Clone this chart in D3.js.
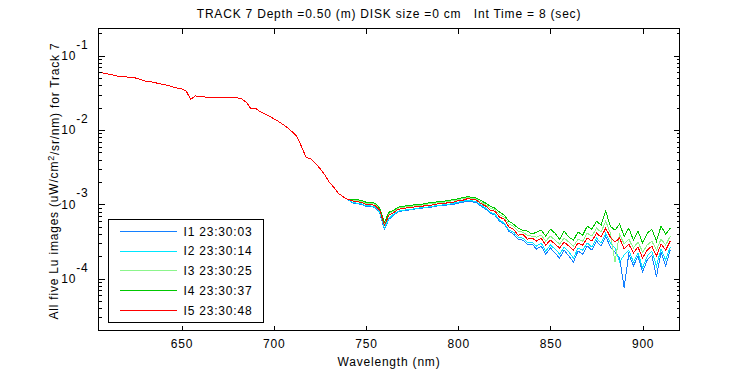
<!DOCTYPE html>
<html>
<head>
<meta charset="utf-8">
<script src="https://cdn.jsdelivr.net/npm/d3@7"></script>
<style>
  body { margin: 0; background: #fff; }
  text { font-family: "Liberation Sans", Arial, sans-serif; font-size: 12px; letter-spacing: 0.8px; fill: #000; white-space: pre; }
</style>
</head>
<body>
<svg id="chart" width="750" height="375"></svg>
<script>
// wavelength grid (nm)
var wavelengths = d3.range(605, 915.1, 2.5);

// 605 - 740 nm, all five images overlap here
var headAll = [0.0606,0.0587,0.0569,0.0552,0.0535,0.0527,0.0519,0.0511,0.0503,0.0480,
  0.0458,0.0452,0.0438,0.0424,0.0411,0.0399,0.0383,0.0369,0.0358,0.0336,
  0.0259,0.0288,0.0284,0.0279,0.0271,0.0275,0.0273,0.0271,0.0271,0.0275,
  0.0273,0.0263,0.0239,0.0196,0.0198,0.0178,0.0165,0.0155,0.0142,0.0131,
  0.0119,0.0107,0.00946,0.00823,0.00604,0.00430,0.00410,0.00357,0.00306,0.00254,
  0.00201,0.00170,0.00141,0.00127,0.00117];

// 742.5 - 915 nm, in units of 1e-4
var tailUnit = 1e-4;
var tailI1 = [10.5,10.2,10.0,9.43,9.43,9.0,7.59,4.63,6.31,7.14,
  7.95,8.2,8.33,8.46,8.72,8.86,9.0,9.14,9.43,9.57,
  9.72,9.86,10.0,10.35,10.67,11.01,10.84,10.5,9.43,8.59,
  7.59,7.14,5.93,5.41,4.35,3.97,3.40,3.30,2.92,2.92,
  2.50,2.74,2.14,2.58,2.21,1.89,2.42,2.01,1.67,2.35,
  2.14,2.74,2.42,3.20,2.74,3.73,2.66,2.28,1.89,0.76,
  2.14,1.48,2.01,1.23,1.78,2.08,1.06,2.28,1.48,2.42];
var tailI2 = [10.67,10.35,10.2,9.57,9.57,9.14,7.83,4.78,6.51,7.36,
  8.08,8.33,8.46,8.59,8.86,9.0,9.14,9.28,9.57,9.72,
  9.86,10.0,10.35,10.67,11.01,11.35,11.18,10.84,9.72,8.86,
  7.83,7.36,6.12,5.58,4.49,4.22,3.62,3.51,3.10,3.10,
  2.74,3.01,2.35,2.83,2.50,2.14,2.66,2.28,1.89,2.58,
  2.42,3.01,2.66,3.51,3.01,4.09,3.01,2.58,1.67,2.08,
  2.42,1.67,2.21,1.39,2.01,2.35,1.48,2.50,1.78,2.66];
var tailI3 = [11.35,11.18,11.01,10.35,10.35,10.0,8.59,5.58,7.47,8.08,
  8.86,9.14,9.28,9.43,9.72,9.72,10.0,10.2,10.35,10.67,
  10.67,11.01,11.18,11.53,11.9,12.27,12.08,11.71,10.67,9.86,
  8.86,8.46,7.25,6.71,5.41,5.08,4.35,4.22,3.85,3.73,
  3.62,3.85,3.20,3.73,3.30,2.92,3.51,3.10,2.74,3.40,
  3.20,4.09,3.73,4.78,4.22,5.93,4.09,1.67,3.97,2.92,
  3.40,2.58,3.10,2.28,2.83,3.20,2.42,3.40,2.83,3.73];
var tailI4 = [11.71,11.53,11.35,10.67,10.67,10.35,8.86,5.75,7.83,8.33,
  9.14,9.43,9.57,9.72,10.0,10.0,10.35,10.5,10.67,11.01,
  11.01,11.35,11.53,11.9,12.27,12.65,12.46,12.08,11.18,10.35,
  9.43,8.86,7.83,7.14,5.93,5.41,4.78,4.49,4.35,3.97,
  4.22,4.49,3.73,4.63,4.09,3.40,4.35,3.62,3.30,4.22,
  3.85,5.08,4.63,5.93,5.24,8.08,5.08,4.49,5.41,3.73,
  4.78,3.30,4.35,3.01,4.09,4.63,3.20,5.08,3.97,4.78];
var tailI5 = [11.18,10.84,10.67,10.0,10.0,9.57,8.33,5.24,7.14,7.71,
  8.59,8.72,9.0,9.0,9.43,9.28,9.72,9.72,10.0,10.2,
  10.2,10.67,10.67,11.18,11.35,11.9,11.71,11.35,10.2,9.43,
  8.33,8.08,6.71,6.31,4.93,4.63,3.85,3.97,3.40,3.51,
  3.20,3.51,2.83,3.30,2.92,2.58,3.10,2.74,2.42,3.01,
  2.83,3.51,3.20,4.09,3.62,4.78,3.62,3.10,3.51,2.50,
  2.92,2.21,2.66,1.89,2.42,2.74,2.01,2.92,2.42,3.20];

var seriesNames = ["I1 23:30:03", "I2 23:30:14", "I3 23:30:25", "I4 23:30:37", "I5 23:30:48"];
var seriesColors = ["#1480ff", "#00e6ff", "#8cf58c", "#00c800", "#ff0000"];
var seriesTails = [tailI1, tailI2, tailI3, tailI4, tailI5];

var xTicks = [650, 700, 750, 800, 850, 900];
var yTicks = [1e-4, 1e-3, 1e-2, 1e-1];

var titleText = "TRACK 7 Depth =0.50 (m) DISK size =0 cm   Int Time = 8 (sec)";

var svg = d3.select("#chart");
var box = {left: 98.5, right: 679.5, top: 28.5, bottom: 330.5};

var x = d3.scaleLinear().domain([605, 920]).range([box.left, box.right]);
var y = d3.scaleLog().domain([2e-5, 0.233]).range([box.bottom, box.top]);

svg.append("rect").attr("width", 750).attr("height", 375).attr("fill", "#fff");

svg.append("clipPath").attr("id", "plotclip")
  .append("rect")
  .attr("x", box.left).attr("y", box.top)
  .attr("width", box.right - box.left).attr("height", box.bottom - box.top);

// build series
var series = seriesNames.map(function(name, i) {
  var vals = headAll.concat(seriesTails[i].map(function(v) { return v * tailUnit; }));
  return {name: name, color: seriesColors[i],
    points: wavelengths.map(function(w, j) { return [w, vals[j]]; })};
});

var line = d3.line()
  .x(function(d) { return x(d[0]); })
  .y(function(d) { return y(d[1]); });

svg.append("g").attr("clip-path", "url(#plotclip)")
  .selectAll("path")
  .data(series)
  .enter()
  .append("path")
  .attr("d", function(d) { return line(d.points); })
  .attr("fill", "none")
  .attr("stroke", function(d) { return d.color; })
  .attr("stroke-width", 1)
  .attr("shape-rendering", "crispEdges");

// x axes (ticks inside, labels bottom only)
svg.append("g").attr("transform", "translate(0," + box.bottom + ")")
  .call(d3.axisBottom(x).tickValues(xTicks).tickSize(-5).tickPadding(9).tickFormat(d3.format("d")));
svg.append("g").attr("transform", "translate(0," + box.top + ")")
  .call(d3.axisTop(x).tickValues(xTicks).tickSize(-5).tickFormat(""));

// y axes
var yl = svg.append("g").attr("transform", "translate(" + box.left + ",0)")
  .call(d3.axisLeft(y).tickValues(yTicks).tickSize(-6).tickPadding(10));
yl.selectAll(".tick text").each(function(d) {
  var t = d3.select(this);
  t.text("");
  t.append("tspan").text("10");
  t.append("tspan").attr("dy", "-0.95em").text(Math.round(Math.log10(d)));
});
svg.append("g").attr("transform", "translate(" + box.right + ",0)")
  .call(d3.axisRight(y).tickValues(yTicks).tickSize(-6).tickFormat(""));

// minor log ticks
var minor = [];
[-5, -4, -3, -2, -1].forEach(function(k) {
  for (var m = 2; m <= 9; m++) {
    var v = m * Math.pow(10, k);
    if (v > 2e-5 && v < 0.233) minor.push(v);
  }
});
svg.append("g").attr("transform", "translate(" + box.left + ",0)")
  .call(d3.axisLeft(y).tickValues(minor).tickSize(-3).tickFormat(""));
svg.append("g").attr("transform", "translate(" + box.right + ",0)")
  .call(d3.axisRight(y).tickValues(minor).tickSize(-3).tickFormat(""));

svg.selectAll(".domain").remove();
svg.selectAll(".tick line").attr("stroke", "#000").attr("shape-rendering", "crispEdges");
svg.selectAll(".tick text").attr("font-family", null).attr("font-size", null).attr("fill", "#000");

// frame
svg.append("rect")
  .attr("x", box.left).attr("y", box.top)
  .attr("width", box.right - box.left).attr("height", box.bottom - box.top)
  .attr("fill", "none").attr("stroke", "#000").attr("shape-rendering", "crispEdges");

// legend
var lg = svg.append("g").attr("transform", "translate(108.5,219.5)");
lg.append("rect").attr("width", 155).attr("height", 103)
  .attr("fill", "#fff").attr("stroke", "#000").attr("shape-rendering", "crispEdges");
var rows = lg.selectAll("g.row").data(series).enter().append("g")
  .attr("class", "row")
  .attr("transform", function(d, i) { return "translate(0," + (12 + i * 19.7) + ")"; });
rows.append("line").attr("x1", 11).attr("x2", 68)
  .attr("stroke", function(d) { return d.color; }).attr("shape-rendering", "crispEdges");
rows.append("text").attr("x", 75).attr("dy", "0.35em").text(function(d) { return d.name; });

// titles
svg.append("text").attr("x", 389).attr("y", 18).attr("text-anchor", "middle").text(titleText);
svg.append("text").attr("x", 389).attr("y", 366).attr("text-anchor", "middle").text("Wavelength (nm)");
var yt = svg.append("text").attr("text-anchor", "middle")
  .attr("transform", "translate(58,181) rotate(-90)");
yt.append("tspan").text("All five Lu images (uW/cm");
yt.append("tspan").attr("dy", "-0.45em").attr("font-size", "9px").text("2");
yt.append("tspan").attr("dy", "0.45em").text("/sr/nm) for Track 7");
</script>
</body>
</html>
